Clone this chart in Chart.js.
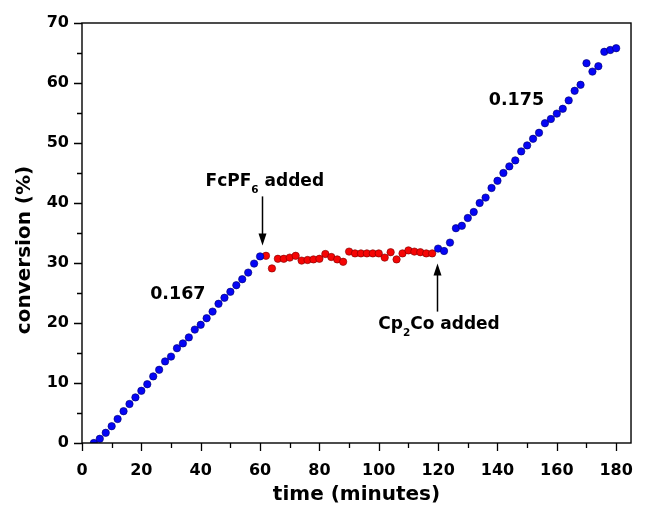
<!DOCTYPE html>
<html>
<head>
<meta charset="utf-8">
<title>conversion vs time</title>
<script src="https://cdn.jsdelivr.net/npm/chart.js@4"></script>
<style>
  html, body { margin: 0; padding: 0; background: #fff; }
  #wrap { width: 651px; height: 507px; }
</style>
</head>
<body>
<div id="wrap"><canvas id="chart" width="651" height="507"></canvas></div>
<script>
// Before FcPF6 (blue)
const timeStart = [4, 6, 8, 10, 12, 14, 16, 18, 20, 22, 24, 26, 28, 30, 32, 34, 36, 38, 40, 42, 44, 46, 48, 50, 52, 54, 56, 58, 60];
const convStart = [0, 0.7, 1.7, 2.8, 4.0, 5.3, 6.5, 7.6, 8.7, 9.8, 11.1, 12.2, 13.6, 14.4, 15.8, 16.6, 17.6, 18.9, 19.7, 20.8, 21.9, 23.2, 24.2, 25.2, 26.3, 27.3, 28.4, 29.9, 31.1];

// After FcPF6, before Cp2Co (red)
const timePause = [62, 64, 66, 68, 70, 72, 74, 76, 78, 80, 82, 84, 86, 88, 90, 92, 94, 96, 98, 100, 102, 104, 106, 108, 110, 112, 114, 116, 118];
const convPause = [31.2, 29.1, 30.7, 30.7, 30.9, 31.2, 30.4, 30.5, 30.6, 30.7, 31.5, 31.0, 30.6, 30.2, 31.9, 31.6, 31.6, 31.6, 31.6, 31.6, 30.9, 31.8, 30.6, 31.6, 32.1, 31.9, 31.8, 31.6, 31.6];

// After Cp2Co (blue)
const timeResume = [120, 122, 124, 126, 128, 130, 132, 134, 136, 138, 140, 142, 144, 146, 148, 150, 152, 154, 156, 158, 160, 162, 164, 166, 168, 170, 172, 174, 176, 178, 180];
const convResume = [32.4, 32.0, 33.4, 35.8, 36.2, 37.5, 38.5, 40.0, 40.9, 42.5, 43.7, 45.0, 46.1, 47.1, 48.6, 49.6, 50.7, 51.7, 53.3, 54.0, 54.9, 55.7, 57.1, 58.7, 59.7, 63.3, 61.9, 62.8, 65.2, 65.5, 65.8];

const xTicks = [0, 10, 20, 30, 40, 50, 60, 70, 80, 90, 100, 110, 120, 130, 140, 150, 160, 170, 180];
const yTicks = [0, 5, 10, 15, 20, 25, 30, 35, 40, 45, 50, 55, 60, 65, 70];

const FONT = 'DejaVu Sans, Arial, sans-serif';

const toPoints = (xs, ys) => xs.map((x, i) => ({ x, y: ys[i] }));

/**
 * Frame, major/minor tick marks, y title and the text notes
 */
const decorations = {
  id: 'decorations',
  afterDraw(chart) {
    const { ctx, chartArea: a, scales: { x, y } } = chart;
    ctx.save();

    // box round the plot
    ctx.strokeStyle = '#000';
    ctx.lineWidth = 1.4;
    ctx.strokeRect(a.left, a.top, a.right - a.left, a.bottom - a.top);

    // tick marks, outwards
    ctx.lineWidth = 1.3;
    ctx.beginPath();
    xTicks.forEach(v => {
      const px = Math.round(x.getPixelForValue(v)) + 0.5;
      const len = v % 20 === 0 ? 8 : 5;
      ctx.moveTo(px, a.bottom);
      ctx.lineTo(px, a.bottom + len);
    });
    yTicks.forEach(v => {
      const py = Math.round(y.getPixelForValue(v)) + 0.5;
      const len = v % 10 === 0 ? 8 : 5;
      ctx.moveTo(a.left, py);
      ctx.lineTo(a.left - len, py);
    });
    ctx.stroke();

    // y title
    ctx.fillStyle = '#000';
    ctx.font = 'bold 20px ' + FONT;
    ctx.textAlign = 'center';
    ctx.textBaseline = 'middle';
    ctx.save();
    ctx.translate(25, 250);
    ctx.rotate(-Math.PI / 2);
    ctx.fillText('conversion (%)', 0, 0);
    ctx.restore();

    // slopes
    ctx.font = 'bold 17.5px ' + FONT;
    ctx.fillText('0.167', x.getPixelForValue(32.3), y.getPixelForValue(24.7));
    ctx.fillText('0.175', x.getPixelForValue(146.4), y.getPixelForValue(57.1));

    // labels with subscript
    const subLabel = (pre, sub, post, cx, baseY) => {
      const big = 'bold 17px ' + FONT;
      const small = 'bold 10.5px ' + FONT;
      ctx.textAlign = 'left';
      ctx.textBaseline = 'alphabetic';
      ctx.font = big;
      const w1 = ctx.measureText(pre).width;
      const w3 = ctx.measureText(post).width;
      ctx.font = small;
      const w2 = ctx.measureText(sub).width;
      let px = cx - (w1 + w2 + w3) / 2;
      ctx.font = big;
      ctx.fillText(pre, px, baseY);
      px += w1;
      ctx.font = small;
      ctx.fillText(sub, px, baseY + 7);
      px += w2;
      ctx.font = big;
      ctx.fillText(post, px, baseY);
    };
    subLabel('FcPF', '6', ' added', x.getPixelForValue(61.6), y.getPixelForValue(42.8));
    subLabel('Cp', '2', 'Co added', x.getPixelForValue(120.3), y.getPixelForValue(19.0));

    // arrows
    const arrow = (xv, fromY, toY) => {
      const px = Math.round(x.getPixelForValue(xv)) + 0.5;
      const y0 = y.getPixelForValue(fromY);
      const y1 = y.getPixelForValue(toY);
      const dir = y1 > y0 ? 1 : -1;
      ctx.lineWidth = 1.5;
      ctx.beginPath();
      ctx.moveTo(px, y0);
      ctx.lineTo(px, y1 - dir * 8);
      ctx.stroke();
      ctx.beginPath();
      ctx.moveTo(px, y1);
      ctx.lineTo(px - 4, y1 - dir * 12);
      ctx.lineTo(px + 4, y1 - dir * 12);
      ctx.closePath();
      ctx.fill();
    };
    arrow(60.5, 41.1, 32.9);
    arrow(119.7, 21.9, 29.9);

    ctx.restore();
  }
};

const whiteBg = {
  id: 'whiteBg',
  beforeDraw(chart) {
    const { ctx, width, height } = chart;
    ctx.save();
    ctx.fillStyle = '#fff';
    ctx.fillRect(0, 0, width, height);
    ctx.restore();
  }
};

const tickFont = { family: FONT, size: 16, weight: 'bold' };

new Chart(document.getElementById('chart'), {
  type: 'scatter',
  data: {
    datasets: [
      {
        label: 'uncatalysed',
        data: toPoints(timeStart, convStart).concat(toPoints(timeResume, convResume)),
        backgroundColor: '#0505f5',
        borderColor: '#00006a',
        borderWidth: 0.6,
        pointRadius: 3.7
      },
      {
        label: 'paused',
        data: toPoints(timePause, convPause),
        backgroundColor: '#f50505',
        borderColor: '#7a0000',
        borderWidth: 0.6,
        pointRadius: 3.7
      }
    ]
  },
  options: {
    responsive: false,
    animation: false,
    layout: { padding: { top: 23, right: 4, left: 0, bottom: 0 } },
    plugins: {
      legend: { display: false },
      tooltip: { enabled: false }
    },
    scales: {
      x: {
        type: 'linear',
        min: 0,
        max: 185,
        afterBuildTicks: (scale) => { scale.ticks = xTicks.map(v => ({ value: v })); },
        afterFit: (scale) => { scale.height = 64; },
        ticks: {
          autoSkip: false,
          maxRotation: 0,
          padding: 18,
          color: '#000',
          font: tickFont,
          callback: (value) => value % 20 === 0 ? value : ''
        },
        grid: { display: false, drawTicks: false },
        border: { display: false },
        title: {
          display: true,
          text: 'time (minutes)',
          color: '#000',
          font: { family: FONT, size: 20, weight: 'bold' },
          padding: { top: 1, bottom: 0 }
        }
      },
      y: {
        type: 'linear',
        min: 0,
        max: 70,
        afterBuildTicks: (scale) => { scale.ticks = yTicks.map(v => ({ value: v })); },
        afterFit: (scale) => { scale.width = 82; },
        ticks: {
          autoSkip: false,
          padding: 13,
          color: '#000',
          font: tickFont,
          callback: (value) => value % 10 === 0 ? value : ''
        },
        grid: { display: false, drawTicks: false },
        border: { display: false }
      }
    }
  },
  plugins: [whiteBg, decorations]
});
</script>
</body>
</html>
